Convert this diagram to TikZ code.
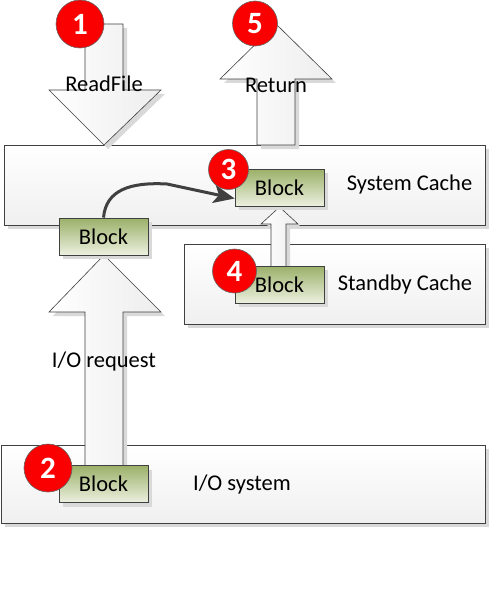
\documentclass[tikz,border=0pt]{standalone}
\usepackage{fontspec}
\setmainfont{Carlito}
\usetikzlibrary{shadows,arrows.meta}
\definecolor{edge}{RGB}{64,64,64}
\definecolor{greentop}{RGB}{155,176,104}
\definecolor{greenbot}{RGB}{236,240,224}
\definecolor{shade}{RGB}{217,217,217}
\definecolor{badge}{RGB}{250,0,0}
\tikzset{
  shd/.style={general shadow={shadow xshift=4pt, shadow yshift=-4pt, fill=shade}},
  box/.style={draw=edge, line width=0.8pt, top color=white, bottom color=black!6, shd, anchor=north west, inner sep=0pt},
  blockbox/.style={draw=edge, line width=0.8pt, top color=greentop, bottom color=greenbot, shd, minimum width=89pt, minimum height=37pt, inner sep=0pt, font=\fontsize{22.5}{26}\selectfont},
  fat/.style={draw=edge, line width=0.6pt, left color=white, right color=black!7, shd},
  lbl/.style={font=\fontsize{22.5}{26}\selectfont, inner sep=0pt},
  badgec/.style={circle, draw=black!60, line width=0.6pt, fill=badge, text=white, inner sep=0pt, font=\bfseries\fontsize{31}{32}\selectfont},
  curv/.style={draw=edge, line width=3pt, -{Stealth[length=21pt,width=18pt,inset=5pt]}}
}
\begin{document}
\begin{tikzpicture}[x=1pt,y=-1pt]
\useasboundingbox (0,0) rectangle (490,591);
% containers
\node[box, minimum width=481pt, minimum height=80pt] (sys) at (4,145) {};
\node[box, minimum width=301pt, minimum height=80pt] (stby) at (184,244) {};
\node[box, minimum width=484pt, minimum height=78pt] (iosys) at (1,445) {};
% fat arrows
\path[fat] (85,24) -- (123,24) -- (123,90) -- (161,90) -- (104,145) -- (49,90) -- (85,90) -- cycle;
\path[fat] (257,145) -- (257,79) -- (220,79) -- (276,24) -- (332,79) -- (295,79) -- (295,145) -- cycle;
\path[fat] (85,466) -- (85,312) -- (49,312) -- (104,255) -- (161,312) -- (123,312) -- (123,466) -- cycle;
\path[fat] (271,267) -- (271,224) -- (261,224) -- (279.5,207) -- (298,224) -- (286,224) -- (286,267) -- cycle;
% blocks
\node[blockbox] (blkA) at (103.5,236.5) {Block};
\node[blockbox] (blk3) at (279.5,187.5) {Block};
\node[blockbox] (blk4) at (279.5,284.5) {Block};
\node[blockbox] (blk2) at (103.5,484) {Block};
% curved arrow
\draw[curv] (blkA.north) .. controls (106,190) and (130,182) .. (167,184) -- ([yshift=-11pt]blk3.west);
% labels
\node[lbl] (tRead) at (104,84) {ReadFile};
\node[lbl] (tRet) at (276,85) {Return};
\node[lbl] (tSys) at (409.5,185) {System Cache};
\node[lbl] (tStby) at (405,284) {Standby Cache};
\node[lbl] (tReq) at (104,361) {I/O request};
\node[lbl] (tIO) at (242,484) {I/O system};
% badges
\node[badgec, minimum size=48pt] (b1) at (80,24) {1};
\node[badgec, minimum size=48pt] (b2) at (48,468) {2};
\node[badgec, minimum size=40pt] (b3) at (228.5,169.5) {3};
\node[badgec, minimum size=44pt] (b4) at (234.5,271) {4};
\node[badgec, minimum size=45pt] (b5) at (255,23.5) {5};
\end{tikzpicture}
\end{document}
